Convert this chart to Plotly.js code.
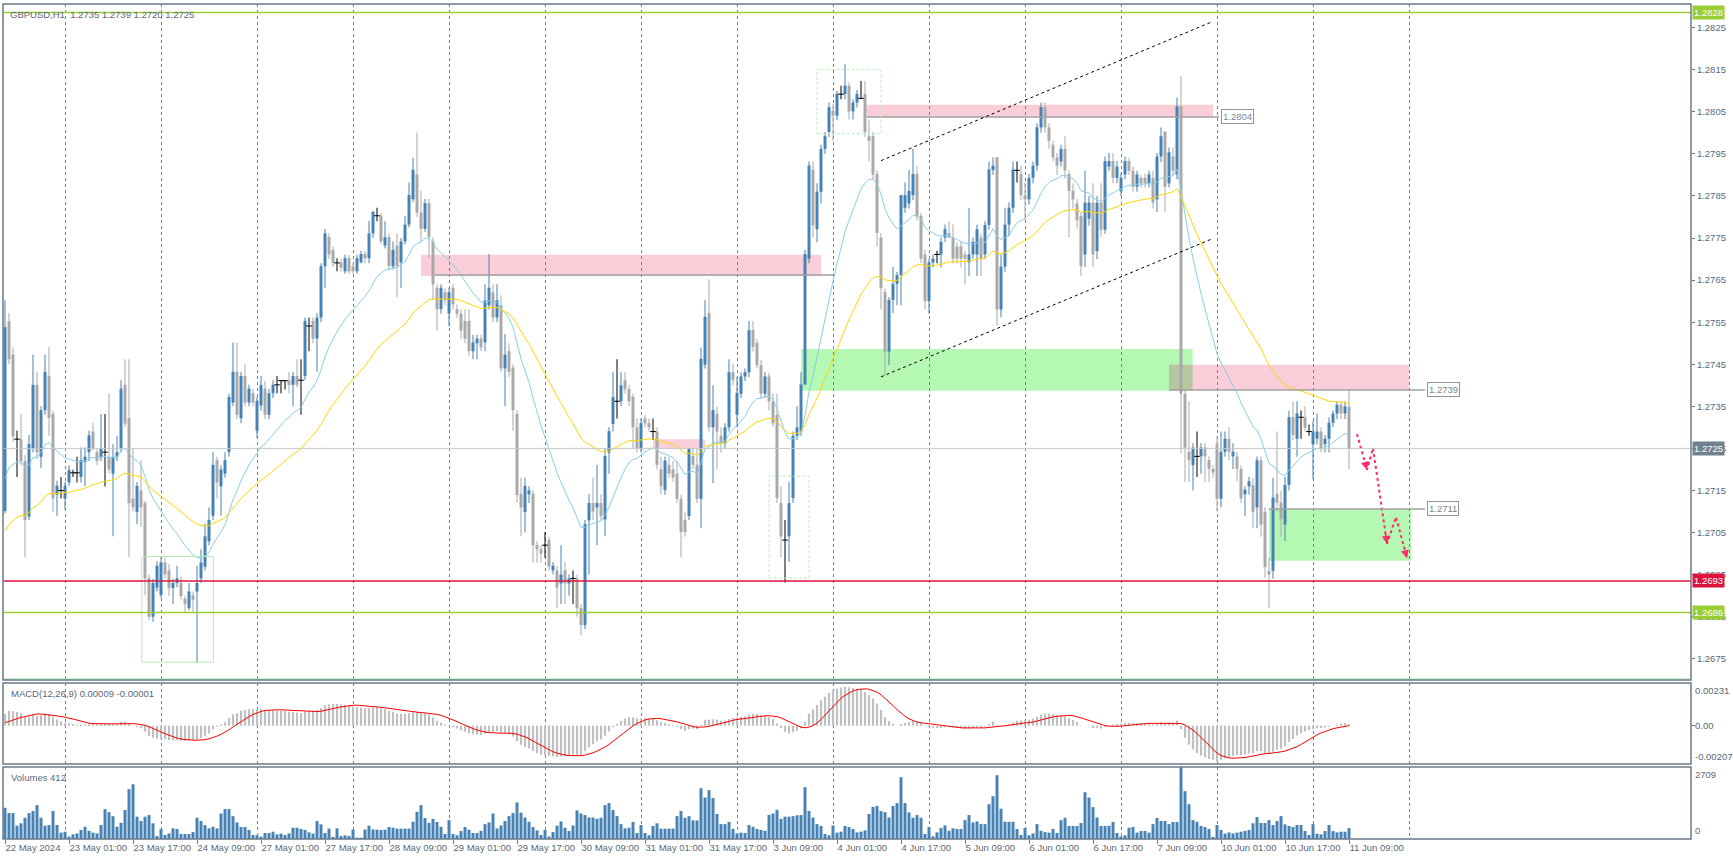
<!DOCTYPE html>
<html><head><meta charset="utf-8">
<script src="https://cdn.plot.ly/plotly-3.0.1.min.js"></script>
<style>html,body{margin:0;padding:0;background:#fff;overflow:hidden}#chart{width:1733px;height:862px}</style>
</head><body><div id="chart"></div>
<script>
// ---------- DATA (GBPUSD H1, bar index 0 = 22 May 2024 09:00) ----------
const opens = [
1.27101,1.27552,1.27473,1.27272,1.27272,1.27220,1.27088,1.27250,1.27401,1.27230,
1.27341,1.27422,1.27332,1.27140,1.27150,1.27131,1.27169,1.27192,1.27192,1.27182,
1.27218,1.27241,1.27290,1.27241,1.27230,1.27241,1.27230,1.27190,1.27230,1.27250,
1.27401,1.27322,1.27131,1.27099,1.27150,1.27120,1.26941,1.26850,1.26919,1.26901,
1.26979,1.26960,1.26918,1.26930,1.26930,1.26893,1.26870,1.26901,1.26910,1.26941,
1.26969,1.27029,1.27090,1.27222,1.27160,1.27190,1.27241,1.27359,1.27432,1.27322,
1.27422,1.27359,1.27381,1.27292,1.27352,1.27392,1.27330,1.27381,1.27401,1.27411,
1.27411,1.27412,1.27401,1.27422,1.27412,1.27422,1.27541,1.27553,1.27511,1.27561,
1.27683,1.27752,1.27721,1.27691,1.27692,1.27671,1.27702,1.27683,1.27671,1.27692,
1.27712,1.27702,1.27761,1.27803,1.27803,1.27732,1.27752,1.27683,1.27732,1.27692,
1.27742,1.27782,1.27842,1.27901,1.27811,1.27772,1.27833,1.27742,1.27632,1.27581,
1.27621,1.27570,1.27632,1.27581,1.27570,1.27553,1.27553,1.27481,1.27500,1.27511,
1.27502,1.27590,1.27621,1.27561,1.27590,1.27440,1.27481,1.27442,1.27332,1.27142,
1.27099,1.27141,1.27142,1.27020,1.27010,1.27020,1.27032,1.26960,1.26960,1.26929,
1.26960,1.26929,1.26941,1.26941,1.26870,1.26830,1.27079,1.27120,1.27110,1.27120,
1.27081,1.27240,1.27308,1.27362,1.27362,1.27412,1.27391,1.27372,1.27300,1.27250,
1.27321,1.27310,1.27290,1.27290,1.27200,1.27151,1.27211,1.27200,1.27190,1.27130,
1.27080,1.27089,1.27232,1.27211,1.27130,1.27449,1.27572,1.27300,1.27332,1.27280,
1.27262,1.27300,1.27431,1.27330,1.27380,1.27421,1.27431,1.27531,1.27501,1.27448,
1.27380,1.27421,1.27362,1.27330,1.27120,1.27032,1.27041,1.27132,1.27280,1.27290,
1.27402,1.27701,1.27913,1.27771,1.27860,1.27962,1.28002,1.28053,1.28041,1.28092,
1.28092,1.28112,1.28051,1.28072,1.28082,1.28092,1.27992,1.27992,1.27902,1.27751,
1.27622,1.27480,1.27603,1.27641,1.27662,1.27822,1.27832,1.27852,1.27902,1.27802,
1.27711,1.27600,1.27692,1.27711,1.27711,1.27751,1.27762,1.27751,1.27730,1.27730,
1.27711,1.27692,1.27711,1.27711,1.27751,1.27711,1.27781,1.27912,1.27942,1.27580,
1.27682,1.27782,1.27822,1.27911,1.27902,1.27852,1.27842,1.27893,1.27922,1.28013,
1.28061,1.28013,1.27972,1.27942,1.27932,1.27962,1.27902,1.27862,1.27832,1.27802,
1.27711,1.27796,1.27834,1.27719,1.27834,1.27770,1.27920,1.27933,1.27893,1.27861,
1.27901,1.27933,1.27910,1.27872,1.27893,1.27893,1.27880,1.27893,1.27842,1.27944,
1.28003,1.27880,1.27944,1.27901,1.28063,1.27380,1.27242,1.27210,1.27231,1.27231,
1.27252,1.27222,1.27201,1.27260,1.27130,1.27242,1.27273,1.27231,1.27231,1.27201,
1.27141,1.27160,1.27163,1.27110,1.27222,1.27099,1.26959,1.26959,1.27142,1.27121,
1.27069,1.27163,1.27324,1.27273,1.27324,1.27324,1.27290,1.27260,1.27273,1.27290,
1.27260,1.27273,1.27311,1.27333,1.27354,1.27333,1.27350];

const highs = [
1.27602,1.27572,1.27490,1.27292,1.27332,1.27235,1.27282,1.27473,1.27432,1.27350,
1.27473,1.27491,1.27340,1.27173,1.27182,1.27170,1.27210,1.27199,1.27230,1.27252,
1.27252,1.27292,1.27311,1.27250,1.27332,1.27332,1.27381,1.27260,1.27280,1.27412,
1.27462,1.27462,1.27250,1.27170,1.27222,1.27125,1.26950,1.26940,1.26982,1.26991,
1.26991,1.26975,1.26940,1.26971,1.26945,1.26900,1.26930,1.26910,1.26971,1.27010,
1.27071,1.27110,1.27241,1.27230,1.27210,1.27241,1.27380,1.27502,1.27502,1.27432,
1.27450,1.27401,1.27392,1.27372,1.27422,1.27410,1.27392,1.27412,1.27422,1.27412,
1.27412,1.27432,1.27432,1.27462,1.27462,1.27561,1.27561,1.27561,1.27572,1.27690,
1.27772,1.27761,1.27730,1.27702,1.27700,1.27710,1.27710,1.27690,1.27710,1.27720,
1.27720,1.27791,1.27815,1.27822,1.27810,1.27790,1.27761,1.27742,1.27761,1.27750,
1.27803,1.27882,1.27941,1.28001,1.27862,1.27843,1.27843,1.27752,1.27640,1.27640,
1.27630,1.27632,1.27640,1.27592,1.27581,1.27581,1.27581,1.27520,1.27520,1.27520,
1.27640,1.27712,1.27640,1.27640,1.27614,1.27522,1.27500,1.27450,1.27341,1.27180,
1.27180,1.27160,1.27150,1.27030,1.27020,1.27051,1.27040,1.26980,1.26970,1.27020,
1.26980,1.26950,1.26960,1.26950,1.26880,1.27080,1.27141,1.27181,1.27211,1.27141,
1.27250,1.27300,1.27431,1.27462,1.27431,1.27431,1.27400,1.27380,1.27321,1.27321,
1.27330,1.27321,1.27321,1.27300,1.27230,1.27230,1.27230,1.27220,1.27220,1.27140,
1.27100,1.27251,1.27251,1.27250,1.27490,1.27603,1.27652,1.27400,1.27350,1.27300,
1.27310,1.27462,1.27451,1.27420,1.27431,1.27440,1.27553,1.27553,1.27510,1.27460,
1.27431,1.27430,1.27380,1.27380,1.27160,1.27080,1.27170,1.27290,1.27350,1.27431,
1.27722,1.27932,1.27932,1.27880,1.27972,1.28002,1.28072,1.28070,1.28100,1.28112,
1.28163,1.28120,1.28080,1.28102,1.28123,1.28123,1.28032,1.28002,1.27911,1.27762,
1.27630,1.27610,1.27681,1.27670,1.27852,1.27882,1.27912,1.27962,1.27922,1.27810,
1.27722,1.27700,1.27711,1.27720,1.27751,1.27782,1.27790,1.27782,1.27740,1.27740,
1.27720,1.27822,1.27751,1.27782,1.27760,1.27790,1.27932,1.27942,1.27942,1.27711,
1.27822,1.27835,1.27932,1.27932,1.27922,1.27882,1.27902,1.27932,1.28023,1.28072,
1.28072,1.28023,1.27982,1.27952,1.27972,1.27992,1.27911,1.27880,1.27842,1.27810,
1.27910,1.27850,1.27880,1.27850,1.27880,1.27944,1.27952,1.27952,1.27933,1.27905,
1.27944,1.27940,1.27920,1.27910,1.27900,1.27903,1.27910,1.27910,1.27952,1.28013,
1.28003,1.27965,1.27965,1.28084,1.28135,1.27390,1.27362,1.27262,1.27290,1.27262,
1.27262,1.27231,1.27210,1.27280,1.27290,1.27290,1.27300,1.27262,1.27242,1.27210,
1.27160,1.27182,1.27180,1.27231,1.27231,1.27110,1.26990,1.27180,1.27290,1.27150,
1.27182,1.27340,1.27362,1.27362,1.27340,1.27350,1.27307,1.27316,1.27333,1.27300,
1.27282,1.27324,1.27340,1.27362,1.27362,1.27362,1.27390];

const lows = [
1.27095,1.27450,1.27265,1.27182,1.27210,1.26991,1.27080,1.27240,1.27225,1.27203,
1.27330,1.27280,1.27099,1.27090,1.27131,1.27105,1.27160,1.27182,1.27169,1.27169,
1.27160,1.27220,1.27245,1.27210,1.27220,1.27160,1.27190,1.27041,1.27220,1.27240,
1.27300,1.26991,1.27100,1.27070,1.27063,1.26901,1.26842,1.26838,1.26910,1.26895,
1.26940,1.26900,1.26880,1.26920,1.26890,1.26859,1.26865,1.26859,1.26740,1.26930,
1.26960,1.27020,1.27080,1.27131,1.27090,1.27180,1.27230,1.27350,1.27320,1.27310,
1.27350,1.27350,1.27350,1.27275,1.27340,1.27320,1.27320,1.27370,1.27381,1.27381,
1.27390,1.27381,1.27350,1.27395,1.27330,1.27412,1.27481,1.27500,1.27432,1.27550,
1.27632,1.27700,1.27681,1.27671,1.27670,1.27665,1.27665,1.27665,1.27665,1.27690,
1.27690,1.27690,1.27750,1.27790,1.27735,1.27725,1.27675,1.27675,1.27610,1.27632,
1.27735,1.27775,1.27835,1.27800,1.27742,1.27765,1.27702,1.27602,1.27530,1.27570,
1.27590,1.27540,1.27580,1.27560,1.27511,1.27500,1.27470,1.27462,1.27462,1.27481,
1.27481,1.27580,1.27550,1.27550,1.27432,1.27350,1.27420,1.27292,1.27120,1.27041,
1.27050,1.27120,1.26978,1.26978,1.26978,1.26990,1.26960,1.26950,1.26870,1.26880,
1.26880,1.26900,1.26880,1.26850,1.26806,1.26820,1.26950,1.27080,1.27020,1.27080,
1.27041,1.27190,1.27290,1.27321,1.27350,1.27380,1.27350,1.27250,1.27240,1.27240,
1.27300,1.27290,1.27270,1.27200,1.27141,1.27140,1.27180,1.27170,1.27120,1.26990,
1.27040,1.27080,1.27200,1.27120,1.27060,1.27440,1.27290,1.27168,1.27201,1.27240,
1.27250,1.27290,1.27400,1.27300,1.27370,1.27410,1.27420,1.27480,1.27440,1.27370,
1.27370,1.27340,1.27300,1.27120,1.26991,1.26931,1.26980,1.27120,1.27270,1.27280,
1.27400,1.27690,1.27751,1.27740,1.27832,1.27950,1.27990,1.27981,1.28030,1.28080,
1.28080,1.28032,1.28032,1.28060,1.28080,1.27990,1.27932,1.27890,1.27730,1.27580,
1.27423,1.27448,1.27572,1.27590,1.27590,1.27810,1.27820,1.27840,1.27792,1.27690,
1.27580,1.27570,1.27680,1.27690,1.27680,1.27740,1.27750,1.27690,1.27690,1.27680,
1.27640,1.27660,1.27700,1.27660,1.27660,1.27700,1.27770,1.27900,1.27542,1.27562,
1.27670,1.27754,1.27810,1.27882,1.27840,1.27793,1.27830,1.27880,1.27910,1.28000,
1.28000,1.27962,1.27932,1.27900,1.27920,1.27891,1.27752,1.27820,1.27772,1.27660,
1.27681,1.27780,1.27681,1.27700,1.27753,1.27760,1.27910,1.27880,1.27880,1.27850,
1.27890,1.27900,1.27860,1.27860,1.27870,1.27870,1.27870,1.27820,1.27812,1.27930,
1.27812,1.27870,1.27900,1.27890,1.27239,1.27170,1.27170,1.27150,1.27182,1.27190,
1.27170,1.27170,1.27180,1.27100,1.27110,1.27230,1.27222,1.27201,1.27172,1.27120,
1.27090,1.27140,1.27060,1.27060,1.27040,1.26942,1.26870,1.26940,1.27100,1.27040,
1.27030,1.27150,1.27270,1.27230,1.27273,1.27290,1.27280,1.27176,1.27260,1.27240,
1.27240,1.27240,1.27300,1.27320,1.27320,1.27320,1.27200];

const closes = [
1.27538,1.27462,1.27279,1.27272,1.27220,1.27080,1.27260,1.27401,1.27241,1.27341,
1.27432,1.27322,1.27131,1.27161,1.27150,1.27161,1.27199,1.27192,1.27192,1.27222,
1.27230,1.27281,1.27251,1.27220,1.27251,1.27241,1.27200,1.27230,1.27241,1.27392,
1.27309,1.27120,1.27110,1.27161,1.27110,1.26941,1.26850,1.26930,1.26971,1.26979,
1.26950,1.26918,1.26930,1.26941,1.26899,1.26880,1.26910,1.26890,1.26930,1.26979,
1.27041,1.27080,1.27211,1.27169,1.27200,1.27222,1.27372,1.27432,1.27330,1.27422,
1.27359,1.27392,1.27359,1.27362,1.27401,1.27330,1.27381,1.27401,1.27401,1.27411,
1.27411,1.27401,1.27422,1.27401,1.27412,1.27553,1.27541,1.27511,1.27561,1.27683,
1.27761,1.27711,1.27691,1.27691,1.27680,1.27702,1.27671,1.27671,1.27702,1.27712,
1.27702,1.27761,1.27812,1.27803,1.27742,1.27752,1.27683,1.27722,1.27683,1.27742,
1.27782,1.27852,1.27912,1.27811,1.27772,1.27833,1.27752,1.27640,1.27581,1.27632,
1.27602,1.27621,1.27592,1.27570,1.27530,1.27511,1.27481,1.27502,1.27511,1.27490,
1.27602,1.27632,1.27561,1.27602,1.27440,1.27473,1.27432,1.27341,1.27139,1.27110,
1.27161,1.27150,1.27020,1.27010,1.27000,1.27020,1.26969,1.26971,1.26919,1.26950,
1.26929,1.26941,1.26941,1.26870,1.26830,1.27070,1.27120,1.27100,1.27120,1.27089,
1.27232,1.27291,1.27372,1.27362,1.27400,1.27391,1.27362,1.27300,1.27250,1.27310,
1.27310,1.27300,1.27290,1.27211,1.27160,1.27221,1.27190,1.27181,1.27130,1.27051,
1.27051,1.27251,1.27211,1.27130,1.27463,1.27563,1.27300,1.27341,1.27290,1.27262,
1.27300,1.27431,1.27412,1.27382,1.27421,1.27431,1.27531,1.27491,1.27448,1.27380,
1.27421,1.27362,1.27310,1.27132,1.27041,1.27032,1.27120,1.27280,1.27300,1.27402,
1.27712,1.27922,1.27780,1.27860,1.27962,1.27992,1.28061,1.28041,1.28093,1.28092,
1.28112,1.28051,1.28072,1.28092,1.28082,1.28002,1.27981,1.27901,1.27762,1.27631,
1.27480,1.27603,1.27641,1.27662,1.27852,1.27852,1.27862,1.27902,1.27801,1.27701,
1.27600,1.27692,1.27701,1.27711,1.27741,1.27771,1.27751,1.27701,1.27701,1.27701,
1.27701,1.27711,1.27741,1.27771,1.27701,1.27781,1.27913,1.27922,1.27580,1.27682,
1.27782,1.27822,1.27913,1.27911,1.27852,1.27842,1.27893,1.27922,1.28013,1.28061,
1.28013,1.27981,1.27942,1.27922,1.27962,1.27911,1.27862,1.27842,1.27792,1.27683,
1.27834,1.27834,1.27711,1.27834,1.27770,1.27933,1.27933,1.27893,1.27920,1.27893,
1.27933,1.27910,1.27872,1.27901,1.27880,1.27880,1.27901,1.27834,1.27944,1.27992,
1.27872,1.27954,1.27910,1.28063,1.27380,1.27252,1.27222,1.27252,1.27231,1.27252,
1.27231,1.27201,1.27193,1.27130,1.27242,1.27273,1.27242,1.27242,1.27201,1.27131,
1.27152,1.27172,1.27099,1.27222,1.27069,1.26968,1.26950,1.27133,1.27121,1.27082,
1.27163,1.27324,1.27282,1.27333,1.27324,1.27299,1.27290,1.27290,1.27290,1.27248,
1.27273,1.27311,1.27333,1.27354,1.27333,1.27350,1.27250];

const volumes = [
1175,975,975,500,590,800,975,1050,1275,800,
500,525,1050,525,240,275,90,175,210,340,
460,310,240,210,525,1125,1010,860,460,610,
1090,1875,2060,840,675,840,900,590,110,375,
150,210,400,375,190,190,190,260,800,675,
525,400,460,400,960,1125,1125,860,625,450,
450,340,150,140,90,225,225,275,175,200,
150,210,425,425,375,340,250,200,675,550,
225,390,75,400,110,140,110,350,50,50,
360,500,360,350,340,350,450,425,390,390,
390,390,650,1025,1275,790,610,760,640,460,
190,710,190,140,300,450,350,225,225,310,
560,625,960,400,510,675,860,975,1375,990,
810,650,450,325,150,340,90,260,500,660,
425,300,510,1075,960,900,810,810,760,800,
1275,1350,1090,860,560,400,425,640,225,525,
225,140,490,590,390,390,390,390,860,1050,
800,860,700,700,1910,1560,1840,1540,940,560,
560,640,375,210,240,225,525,460,375,340,
310,910,960,1100,760,840,840,860,890,900,
1950,1050,810,560,490,190,140,510,240,275,
490,450,375,250,275,325,940,1210,1240,1050,
1010,810,1240,1350,2325,1350,1000,800,900,800,
190,450,100,250,410,510,310,400,375,375,
710,900,625,660,560,560,1310,1610,2400,1140,
650,650,650,375,150,410,140,210,560,310,
260,240,375,225,710,800,490,490,490,600,
1760,1560,1200,810,490,490,500,640,225,100,
140,425,450,240,300,300,240,560,790,675,
675,560,640,640,2709,1800,1310,710,650,490,
450,375,75,525,340,200,250,210,240,275,
300,340,590,825,600,600,710,525,675,860,
550,490,450,525,525,300,150,560,200,175,
300,525,300,250,275,275,412];

// time axis labels (every 16 bars) and day boundaries (midnight bars)
const labelBars = [0,16,32,48,64,80,96,112,128,144,160,176,192,208,224,240,256,272,288,304,320,336];
const timeLabels = ['22 May 2024','23 May 01:00','23 May 17:00','24 May 09:00','27 May 01:00','27 May 17:00',
 '28 May 09:00','29 May 01:00','29 May 17:00','30 May 09:00','31 May 01:00','31 May 17:00','3 Jun 09:00',
 '4 Jun 01:00','4 Jun 17:00','5 Jun 09:00','6 Jun 01:00','6 Jun 17:00','7 Jun 09:00','10 Jun 01:00',
 '10 Jun 17:00','11 Jun 09:00'];
const dayBreaks = [15,39,63,87,111,135,159,183,207,231,255,279,303,327,351];
const priceTicks = [1.2675,1.2685,1.2695,1.2705,1.2715,1.2725,1.2735,1.2745,1.2755,1.2765,1.2775,1.2785,1.2795,1.2805,1.2815,1.2825];
const priceRange = [1.266995, 1.283063];

// indicator seeds (values of the averages just before bar 0)
const maFastSeed = 1.2714, maSlowSeed = 1.27034;
const macdSeed12 = 1.27135, macdSeed26 = 1.2710, macdSignalSeed = 0.0001;
const macdText = 'MACD(12,26,9) 0.00009 -0.00001';
const macdMax = 0.00231, macdMin = -0.00207, volMax = 2709;

// horizontal levels (price, kind, axis label)
const levelPrices = [1.28286, 1.26935, 1.2686, 1.2725, 1.26702];
const levelKinds  = ['green','red','green','bid','pale'];
const levelLabels = ['1.2828','1.2693','1.2686','1.2725',''];
// zones: start bar, end bar, low, high, kind
const zoneStart = [104, 215.4, 199, 291, 316, 162];
const zoneEnd   = [204, 302, 296.9, 351, 351.5, 175];
const zoneLow   = [1.27660, 1.28038, 1.27387, 1.27389, 1.26983, 1.27249];
const zoneHigh  = [1.27710, 1.28067, 1.27486, 1.27449, 1.27106, 1.27272];
const zoneKind  = ['pink','pink','green','pink','green','pink'];
// labelled trend lines (price, from bar, to bar, label)
const tagPrice = [1.27662, 1.28038, 1.27389, 1.27106];
const tagFrom  = [107.5, 215.4, 291, 316];
const tagTo    = [207, 303.5, 355, 355];
const tagText  = ['', '1.2804', '1.2739', '1.2711'];
// outline boxes (start, end, low, high, dashed?)
const boxStart = [34.2, 191, 203];
const boxEnd   = [52.1, 201, 219];
const boxLow   = [1.26742, 1.26942, 1.27998];
const boxHigh  = [1.26993, 1.27184, 1.28151];
const boxDash  = [false, true, true];
// channel lines
const chanX0 = [219, 219], chanX1 = [301.75, 302];
const chanY0 = [1.27934, 1.27420], chanY1 = [1.28264, 1.27749];
// forecast zigzag
const fcBars   = [338, 340.5, 342, 345.5, 347.75, 350.5];
const fcPrices = [1.27284, 1.27199, 1.27251, 1.27023, 1.27087, 1.26989];

// ---------- STYLE ----------
const frameColor = '#6c7a89', textColor = '#5b6878', gridColor = '#77828e';
const fontFam = 'Liberation Sans, Arial, sans-serif';
const bullColor = '#4682b4', bearColor = '#a9a9a9', dojiColor = '#000000';
const pinkFill = 'rgb(250,206,216)', greenFill = 'rgb(180,248,180)', overlapFill = 'rgb(182,198,160)';
const fcColor = '#ff2a68';
const levelColor = {green:'#9acd32', red:'#dc143c', bid:'#c8c8c8', pale:'#b4f0b4'};
const levelBox = {green:'#9acd32', red:'#dc143c', bid:'#708090'};

// ---------- INDICATORS ----------
function ema(src, period, seed){ const a = 2/(period+1); let p = seed; return src.map(v => (p = p + a*(v - p))); }
const N = closes.length;
const maFast = ema(closes, 20, maFastSeed);
const maSlow = ema(closes, 50, maSlowSeed);
const e12 = ema(closes, 12, macdSeed12), e26 = ema(closes, 26, macdSeed26);
const macdMain = e12.map((v,i) => v - e26[i]);
const macdSig = macdMain.map((v,i) => {
  let s = 0; for (let k = i-8; k <= i; k++) s += (k >= 0 ? macdMain[k] : macdSignalSeed);
  return s/9;
});
const idx = closes.map((_,i) => i);

// ---------- CANDLES ----------
const grp = {};
['bull','bear','doji'].forEach(g => grp[g] = {x:[], wb:[], wh:[], bb:[], bh:[], y:[]});
for (let i = 0; i < N; i++) {
  const o = opens[i], c = closes[i];
  const g = Math.abs(c-o) < 1e-9 ? 'doji' : (c > o ? 'bull' : 'bear');
  const G = grp[g];
  G.x.push(i); G.wb.push(lows[i]); G.wh.push(highs[i]-lows[i]);
  G.bb.push(Math.min(o,c)); G.bh.push(Math.abs(c-o)); G.y.push(o);
}
const colOf = {bull:bullColor, bear:bearColor, doji:dojiColor};
const traces = [];
['bull','bear','doji'].forEach(g => traces.push({type:'bar', x:grp[g].x, y:grp[g].wh, base:grp[g].wb, width:0.25,
  marker:{color:colOf[g], line:{width:0}}, xaxis:'x', yaxis:'y', hoverinfo:'skip'}));
['bull','bear'].forEach(g => traces.push({type:'bar', x:grp[g].x, y:grp[g].bh, base:grp[g].bb, width:0.75,
  marker:{color:colOf[g], line:{width:0}}, xaxis:'x', yaxis:'y', hoverinfo:'skip'}));
traces.push({type:'scatter', mode:'markers', x:grp.doji.x, y:grp.doji.y, xaxis:'x', yaxis:'y',
  marker:{symbol:'line-ew', size:4, line:{width:1, color:dojiColor}}, hoverinfo:'skip'});
traces.push({type:'scatter', mode:'lines', x:idx, y:maFast, line:{color:'#87ceeb', width:1}, xaxis:'x', yaxis:'y', hoverinfo:'skip'});
traces.push({type:'scatter', mode:'lines', x:idx, y:maSlow, line:{color:'#ffd700', width:1}, xaxis:'x', yaxis:'y', hoverinfo:'skip'});
traces.push({type:'scatter', mode:'lines', x:fcBars, y:fcPrices, line:{color:fcColor, width:2, dash:'3px,3px'}, xaxis:'x', yaxis:'y', hoverinfo:'skip'});
// MACD
traces.push({type:'bar', x:idx, y:macdMain, width:0.55, marker:{color:'#c0c0c0', line:{width:0}}, xaxis:'x', yaxis:'y2', hoverinfo:'skip'});
traces.push({type:'scatter', mode:'lines', x:idx, y:macdSig, line:{color:'#ff0000', width:1}, xaxis:'x', yaxis:'y2', hoverinfo:'skip'});
// Volumes
traces.push({type:'bar', x:idx, y:volumes, width:0.75, marker:{color:bullColor, line:{width:0}}, xaxis:'x', yaxis:'y3', hoverinfo:'skip'});

// ---------- SHAPES ----------
const shapes = [];
zoneStart.forEach((s,k) => shapes.push({type:'rect', xref:'x', yref:'y', x0:s, x1:zoneEnd[k], y0:zoneLow[k], y1:zoneHigh[k],
  fillcolor: zoneKind[k]==='pink' ? pinkFill : greenFill, line:{width:0}, layer:'below'}));
(function(){ const a = 2, b = 3;
  const x0 = Math.max(zoneStart[a], zoneStart[b]), x1 = Math.min(zoneEnd[a], zoneEnd[b]);
  const y0 = Math.max(zoneLow[a], zoneLow[b]), y1 = Math.min(zoneHigh[a], zoneHigh[b]);
  if (x1 > x0 && y1 > y0) shapes.push({type:'rect', xref:'x', yref:'y', x0, x1, y0, y1, fillcolor:overlapFill, line:{width:0}, layer:'below'});
})();
tagPrice.forEach((p,k) => shapes.push({type:'line', xref:'x', yref:'y', x0:tagFrom[k], x1:tagTo[k], y0:p, y1:p, line:{color:'#a0a0a0', width:1.5}}));
boxStart.forEach((s,k) => shapes.push({type:'rect', xref:'x', yref:'y', x0:s, x1:boxEnd[k], y0:boxLow[k], y1:boxHigh[k],
  line:{color: boxDash[k] ? '#b8eeb8' : '#b4ecb4', width:1, dash: boxDash[k] ? '3px,2px' : 'solid'}, fillcolor:'rgba(0,0,0,0)'}));
chanX0.forEach((x,k) => shapes.push({type:'line', xref:'x', yref:'y', x0:x, x1:chanX1[k], y0:chanY0[k], y1:chanY1[k], line:{color:'#000', width:1, dash:'3px,3px'}}));
levelPrices.forEach((p,k) => shapes.push({type:'line', xref:'paper', yref:'y', x0:0, x1:1, y0:p, y1:p,
  line:{color: levelColor[levelKinds[k]], width: levelKinds[k]==='bid' ? 1 : 1.5}}));
const dMain = [0.19042, 1], dMacd = [0.08982, 0.18683], dVol = [0, 0.08623];
[dMain, dMacd, dVol].forEach(d => shapes.push({type:'rect', xref:'paper', yref:'paper', x0:0, x1:1, y0:d[0], y1:d[1], line:{color:frameColor, width:1.5}}));

// ---------- ANNOTATIONS ----------
const f = (s, c) => ({family:fontFam, size:s, color:c || textColor});
const ann = [];
ann.push({xref:'paper', yref:'paper', x:0, y:1, xanchor:'left', yanchor:'top', xshift:5, yshift:-3, showarrow:false,
  text:`GBPUSD,H1  ${opens[N-1].toFixed(4)} ${highs[N-1].toFixed(4)} ${lows[N-1].toFixed(4)} ${closes[N-1].toFixed(4)}`, font:f(9.5)});
ann.push({xref:'paper', yref:'paper', x:0, y:dMacd[1], xanchor:'left', yanchor:'top', xshift:6, yshift:-3, showarrow:false, text:macdText, font:f(9.5)});
ann.push({xref:'paper', yref:'paper', x:0, y:dVol[1], xanchor:'left', yanchor:'top', xshift:6, yshift:-3, showarrow:false, text:'Volumes ' + volumes[N-1], font:f(9.5)});
levelPrices.forEach((p,k) => { const kind = levelKinds[k]; if (!levelBox[kind] || !levelLabels[k]) return;
  ann.push({xref:'paper', yref:'y', x:1, y:p, xanchor:'left', yanchor:'middle', xshift:1, showarrow:false, text:levelLabels[k],
    bgcolor:levelBox[kind], borderpad:1, font:f(9.5,'#ffffff')}); });
tagText.forEach((t,k) => { if (!t) return;
  ann.push({xref:'x', yref:'y', x:tagTo[k], y:tagPrice[k], xanchor:'left', yanchor:'middle', xshift:2, showarrow:false, text:t,
    bgcolor:'#ffffff', bordercolor:'#8a96a3', borderwidth:1, borderpad:1, font:f(9.5,'#7a8794')}); });
[1,3,5].forEach(k => ann.push({xref:'x', yref:'y', axref:'x', ayref:'y', x:fcBars[k], y:fcPrices[k],
  ax: fcBars[k] + (fcBars[k-1]-fcBars[k])*0.12, ay: fcPrices[k] + (fcPrices[k-1]-fcPrices[k])*0.12,
  text:'', showarrow:true, arrowhead:2, arrowsize:1, arrowwidth:1.6, arrowcolor:fcColor}));
ann.push({xref:'paper', yref:'y2', x:1, y:macdMax, xanchor:'left', yanchor:'top', xshift:2, showarrow:false, text:macdMax.toFixed(5), font:f(9.5)});
ann.push({xref:'paper', yref:'y2', x:1, y:0, xanchor:'left', yanchor:'middle', xshift:2, showarrow:false, text:'0.00', font:f(9.5)});
ann.push({xref:'paper', yref:'y2', x:1, y:macdMin, xanchor:'left', yanchor:'bottom', xshift:2, showarrow:false, text:macdMin.toFixed(5), font:f(9.5)});
ann.push({xref:'paper', yref:'y3', x:1, y:volMax, xanchor:'left', yanchor:'top', xshift:2, showarrow:false, text:String(volMax), font:f(9.5)});
ann.push({xref:'paper', yref:'y3', x:1, y:0, xanchor:'left', yanchor:'bottom', xshift:2, yshift:1, showarrow:false, text:'0', font:f(9.5)});

// ---------- LAYOUT ----------
const layout = {
  width:1733, height:862, margin:{l:3, r:42, t:4, b:23, pad:0},
  paper_bgcolor:'#ffffff', plot_bgcolor:'#ffffff', showlegend:false, barmode:'overlay',
  xaxis:{domain:[0,1], range:[-0.5,421.5], anchor:'y3', showgrid:false, zeroline:false, showline:false,
    tickmode:'array', tickvals:labelBars, ticktext:timeLabels, tickangle:0, ticks:'outside', ticklen:4, tickwidth:1, tickcolor:frameColor,
    ticklabelposition:'outside right', tickfont:f(9.5), fixedrange:true,
    minor:{tickmode:'array', tickvals:dayBreaks, showgrid:true, gridcolor:gridColor, gridwidth:1, griddash:'3px,3px', ticks:''}},
  yaxis:{domain:dMain, range:priceRange, side:'right', anchor:'x', showgrid:false, zeroline:false, showline:false,
    tickmode:'array', tickvals:priceTicks, ticktext:priceTicks.map(v=>v.toFixed(4)), ticks:'outside', ticklen:3, tickwidth:1,
    tickcolor:frameColor, tickfont:f(9.5), fixedrange:true},
  yaxis2:{domain:dMacd, range:[macdMin, macdMax], side:'right', anchor:'x', showgrid:false, zeroline:false, showline:false,
    showticklabels:false, tickmode:'array', tickvals:[0], ticks:'outside', ticklen:3, tickcolor:frameColor, fixedrange:true},
  yaxis3:{domain:dVol, range:[0, volMax], side:'right', anchor:'x', showgrid:false, zeroline:false, showline:false,
    showticklabels:false, ticks:'', fixedrange:true},
  shapes, annotations:ann
};
Plotly.newPlot('chart', traces, layout, {displayModeBar:false, staticPlot:true});
</script></body></html>
